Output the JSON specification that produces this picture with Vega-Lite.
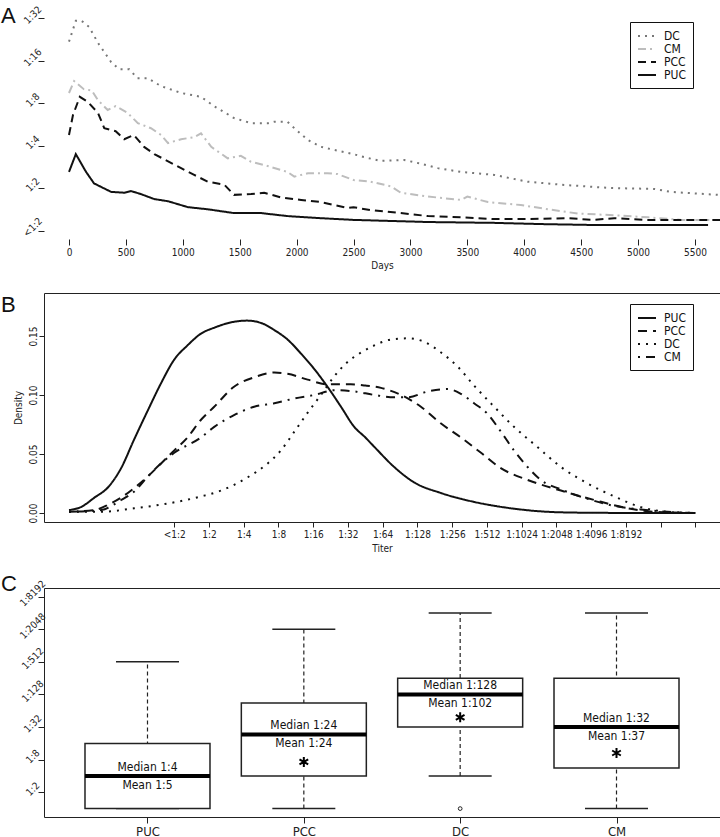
{
  "$schema": "https://vega.github.io/schema/vega-lite/v6.json",
  "background": "white",
  "padding": {"left": 0, "top": 4, "right": 1, "bottom": 0},
  "config": {
    "font": "Liberation Sans Narrow, DejaVu Sans Condensed, Liberation Sans, Arial",
    "axis": {"labelFont": "Liberation Sans Narrow, DejaVu Sans Condensed, Liberation Sans, Arial", "labelFontSize": 10, "labelColor": "#222", "titleFont": "Liberation Sans Narrow, DejaVu Sans Condensed, Liberation Sans, Arial", "titleFontSize": 10, "titleFontWeight": "normal", "titleColor": "#222", "tickColor": "#222", "domainColor": "#222", "grid": false, "labelOverlap": false, "labelFlush": false, "labelBound": false},
    "axisY": {"labelOverlap": false},
    "legend": {"labelFont": "Liberation Sans Narrow, DejaVu Sans Condensed, Liberation Sans, Arial", "labelFontSize": 12, "labelColor": "#111"},
    "title": {"font": "Liberation Sans", "fontSize": 22, "fontWeight": "normal", "color": "#111"}
  },
  "bounds": "flush",
  "spacing": 54,
  "resolve": {"scale": {"color": "independent", "strokeDash": "independent"}, "legend": {"color": "independent", "strokeDash": "independent"}},
  "vconcat": [
    {
      "width": 676,
      "height": 234,
      "title": {"text": "A", "orient": "top", "anchor": "start", "frame": "group", "offset": -28, "baseline": "top", "dx": -43, "dy": -4},
      "view": {"stroke": null},
      "layer": [
        {
          "data": {"values": [
            {"s":"DC","day":0,"v":4.45},{"s":"DC","day":60,"v":4.94},{"s":"DC","day":110,"v":4.94},{"s":"DC","day":176,"v":4.8},{"s":"DC","day":255,"v":4.42},{"s":"DC","day":370,"v":3.97},{"s":"DC","day":440,"v":3.8},{"s":"DC","day":530,"v":3.8},{"s":"DC","day":600,"v":3.59},{"s":"DC","day":690,"v":3.59},{"s":"DC","day":810,"v":3.4},{"s":"DC","day":985,"v":3.24},{"s":"DC","day":1160,"v":3.15},{"s":"DC","day":1275,"v":2.93},{"s":"DC","day":1450,"v":2.65},{"s":"DC","day":1600,"v":2.53},{"s":"DC","day":1750,"v":2.53},{"s":"DC","day":1800,"v":2.56},{"s":"DC","day":1920,"v":2.56},{"s":"DC","day":1980,"v":2.41},{"s":"DC","day":2100,"v":2.13},{"s":"DC","day":2215,"v":1.97},{"s":"DC","day":2330,"v":1.9},{"s":"DC","day":2500,"v":1.8},{"s":"DC","day":2590,"v":1.73},{"s":"DC","day":2740,"v":1.64},{"s":"DC","day":2945,"v":1.66},{"s":"DC","day":3065,"v":1.59},{"s":"DC","day":3240,"v":1.47},{"s":"DC","day":3445,"v":1.38},{"s":"DC","day":3735,"v":1.31},{"s":"DC","day":4030,"v":1.15},{"s":"DC","day":4320,"v":1.08},{"s":"DC","day":4760,"v":1.0},{"s":"DC","day":5140,"v":0.98},{"s":"DC","day":5290,"v":0.91},{"s":"DC","day":5700,"v":0.84},
            {"s":"CM","day":0,"v":3.24},{"s":"CM","day":45,"v":3.52},{"s":"CM","day":130,"v":3.33},{"s":"CM","day":200,"v":3.3},{"s":"CM","day":255,"v":3.07},{"s":"CM","day":340,"v":2.84},{"s":"CM","day":410,"v":2.93},{"s":"CM","day":515,"v":2.77},{"s":"CM","day":605,"v":2.53},{"s":"CM","day":720,"v":2.41},{"s":"CM","day":810,"v":2.25},{"s":"CM","day":870,"v":2.06},{"s":"CM","day":985,"v":2.15},{"s":"CM","day":1100,"v":2.2},{"s":"CM","day":1160,"v":2.29},{"s":"CM","day":1250,"v":1.97},{"s":"CM","day":1395,"v":1.7},{"s":"CM","day":1510,"v":1.76},{"s":"CM","day":1600,"v":1.62},{"s":"CM","day":1745,"v":1.52},{"s":"CM","day":1920,"v":1.38},{"s":"CM","day":1980,"v":1.27},{"s":"CM","day":2100,"v":1.35},{"s":"CM","day":2270,"v":1.35},{"s":"CM","day":2360,"v":1.33},{"s":"CM","day":2500,"v":1.19},{"s":"CM","day":2650,"v":1.15},{"s":"CM","day":2830,"v":1.04},{"s":"CM","day":2915,"v":0.89},{"s":"CM","day":3155,"v":0.8},{"s":"CM","day":3445,"v":0.72},{"s":"CM","day":3500,"v":0.8},{"s":"CM","day":3680,"v":0.67},{"s":"CM","day":3970,"v":0.6},{"s":"CM","day":4210,"v":0.5},{"s":"CM","day":4470,"v":0.4},{"s":"CM","day":4790,"v":0.36},{"s":"CM","day":5090,"v":0.31},{"s":"CM","day":5380,"v":0.25},{"s":"CM","day":5720,"v":0.25},
            {"s":"PCC","day":0,"v":2.25},{"s":"PCC","day":35,"v":2.72},{"s":"PCC","day":95,"v":3.15},{"s":"PCC","day":165,"v":3.03},{"s":"PCC","day":255,"v":2.77},{"s":"PCC","day":310,"v":2.41},{"s":"PCC","day":410,"v":2.34},{"s":"PCC","day":485,"v":2.15},{"s":"PCC","day":570,"v":2.25},{"s":"PCC","day":660,"v":1.97},{"s":"PCC","day":750,"v":1.8},{"s":"PCC","day":985,"v":1.47},{"s":"PCC","day":1100,"v":1.31},{"s":"PCC","day":1220,"v":1.15},{"s":"PCC","day":1365,"v":1.08},{"s":"PCC","day":1450,"v":0.84},{"s":"PCC","day":1600,"v":0.86},{"s":"PCC","day":1715,"v":0.89},{"s":"PCC","day":1860,"v":0.78},{"s":"PCC","day":2040,"v":0.72},{"s":"PCC","day":2215,"v":0.67},{"s":"PCC","day":2330,"v":0.6},{"s":"PCC","day":2450,"v":0.53},{"s":"PCC","day":2500,"v":0.55},{"s":"PCC","day":2650,"v":0.48},{"s":"PCC","day":2915,"v":0.41},{"s":"PCC","day":3155,"v":0.34},{"s":"PCC","day":3445,"v":0.31},{"s":"PCC","day":3735,"v":0.27},{"s":"PCC","day":4030,"v":0.27},{"s":"PCC","day":4380,"v":0.29},{"s":"PCC","day":4610,"v":0.25},{"s":"PCC","day":4790,"v":0.29},{"s":"PCC","day":5050,"v":0.25},{"s":"PCC","day":5720,"v":0.25},
            {"s":"PUC","day":0,"v":1.38},{"s":"PUC","day":60,"v":1.8},{"s":"PUC","day":150,"v":1.38},{"s":"PUC","day":220,"v":1.11},{"s":"PUC","day":370,"v":0.91},{"s":"PUC","day":485,"v":0.89},{"s":"PUC","day":545,"v":0.93},{"s":"PUC","day":630,"v":0.86},{"s":"PUC","day":750,"v":0.74},{"s":"PUC","day":870,"v":0.69},{"s":"PUC","day":1045,"v":0.55},{"s":"PUC","day":1220,"v":0.5},{"s":"PUC","day":1450,"v":0.41},{"s":"PUC","day":1690,"v":0.41},{"s":"PUC","day":1920,"v":0.34},{"s":"PUC","day":2215,"v":0.29},{"s":"PUC","day":2500,"v":0.25},{"s":"PUC","day":3155,"v":0.2},{"s":"PUC","day":3735,"v":0.18},{"s":"PUC","day":4175,"v":0.15},{"s":"PUC","day":4610,"v":0.13},{"s":"PUC","day":5615,"v":0.13}
          ]},
          "mark": {"type": "line", "strokeWidth": 2},
          "encoding": {
            "x": {"field": "day", "type": "quantitative", "scale": {"domain": [-219.6, 5720], "nice": false, "zero": false},
                  "axis": {"title": "Days", "values": [0,500,1000,1500,2000,2500,3000,3500,4000,4500,5000,5500], "format": "d", "domain": false, "tickSize": 6, "labelPadding": 2, "titlePadding": 3, "labelOverlap": false}},
            "y": {"field": "v", "type": "quantitative", "scale": {"domain": [-0.2, 5.313], "nice": false, "zero": false},
                  "axis": {"title": null, "values": [0,1,2,3,4,5], "labelExpr": "datum.value == 0 ? '<1:2' : '1:' + pow(2, datum.value)", "labelAngle": -45, "labelAlign": "center", "labelBaseline": "bottom", "labelPadding": 2, "domain": false, "tickSize": 6, "labelOverlap": false}},
            "color": {"field": "s", "type": "nominal", "scale": {"domain": ["DC","CM","PCC","PUC"], "range": ["#777777","#bdbdbd","#111111","#111111"]},
                      "legend": {"title": null, "orient": "none", "legendX": 586, "legendY": 17, "strokeColor": "#111", "padding": 7, "symbolType": "M-1,0H2", "symbolSize": 144, "symbolStrokeWidth": 2, "labelOffset": 13, "rowPadding": 0}},
            "strokeDash": {"field": "s", "type": "nominal", "scale": {"domain": ["DC","CM","PCC","PUC"], "range": [[2,5],[8,4,2,4],[8,5],[1,0]]},
                      "legend": {"title": null, "orient": "none", "legendX": 586, "legendY": 17, "strokeColor": "#111", "padding": 7, "symbolType": "M-1,0H2", "symbolSize": 144, "symbolStrokeWidth": 2, "labelOffset": 13, "rowPadding": 0}}
          }
        },
        {
          "mark": {"type": "rule", "color": "#222", "strokeWidth": 1},
          "encoding": {"x": {"datum": -219.6, "type": "quantitative"}, "y": {"datum": 0, "type": "quantitative"}, "y2": {"datum": 5}}
        },
        {
          "mark": {"type": "rule", "color": "#222", "strokeWidth": 1},
          "encoding": {"x": {"datum": 0, "type": "quantitative"}, "x2": {"datum": 5500}, "y": {"datum": -0.2, "type": "quantitative"}}
        }
      ]
    },
    {
      "bounds": "flush",
      "spacing": 66,
      "resolve": {"scale": {"color": "independent", "strokeDash": "independent"}, "legend": {"color": "independent", "strokeDash": "independent"}},
      "vconcat": [
        {
          "width": 676,
          "height": 229,
          "title": {"text": "B", "orient": "top", "anchor": "start", "frame": "group", "offset": -28, "baseline": "top", "dx": -43, "dy": -4},
          "view": {"stroke": "#222", "strokeWidth": 1},
          "data": {"values": [
            {"s":"PUC","t":-3.03,"d":0.0025},{"s":"PUC","t":-2.69,"d":0.005},{"s":"PUC","t":-2.3,"d":0.013},{"s":"PUC","t":-1.9,"d":0.022},{"s":"PUC","t":-1.53,"d":0.038},{"s":"PUC","t":-1.16,"d":0.062},{"s":"PUC","t":-0.76,"d":0.087},{"s":"PUC","t":-0.38,"d":0.11},{"s":"PUC","t":0,"d":0.13},{"s":"PUC","t":0.38,"d":0.142},{"s":"PUC","t":0.77,"d":0.152},{"s":"PUC","t":1.15,"d":0.157},{"s":"PUC","t":1.72,"d":0.162},{"s":"PUC","t":2.1,"d":0.163},{"s":"PUC","t":2.5,"d":0.161},{"s":"PUC","t":2.88,"d":0.155},{"s":"PUC","t":3.26,"d":0.147},{"s":"PUC","t":3.65,"d":0.135},{"s":"PUC","t":4.03,"d":0.122},{"s":"PUC","t":4.41,"d":0.107},{"s":"PUC","t":4.8,"d":0.09},{"s":"PUC","t":5.18,"d":0.073},{"s":"PUC","t":5.5,"d":0.064},{"s":"PUC","t":5.76,"d":0.056},{"s":"PUC","t":6.33,"d":0.039},{"s":"PUC","t":6.9,"d":0.026},{"s":"PUC","t":7.67,"d":0.017},{"s":"PUC","t":8.63,"d":0.0094},{"s":"PUC","t":9.69,"d":0.004},{"s":"PUC","t":11.1,"d":0.0006},{"s":"PUC","t":12.5,"d":0.0001},{"s":"PUC","t":15,"d":0},
            {"s":"PCC","t":-3.03,"d":0.001},{"s":"PCC","t":-2.3,"d":0.0025},{"s":"PCC","t":-1.9,"d":0.007},{"s":"PCC","t":-1.53,"d":0.013},{"s":"PCC","t":-1.16,"d":0.021},{"s":"PCC","t":-0.76,"d":0.031},{"s":"PCC","t":-0.38,"d":0.042},{"s":"PCC","t":0,"d":0.053},{"s":"PCC","t":0.38,"d":0.064},{"s":"PCC","t":0.77,"d":0.079},{"s":"PCC","t":1.15,"d":0.09},{"s":"PCC","t":1.72,"d":0.107},{"s":"PCC","t":2.3,"d":0.115},{"s":"PCC","t":2.88,"d":0.119},{"s":"PCC","t":3.26,"d":0.118},{"s":"PCC","t":3.84,"d":0.113},{"s":"PCC","t":4.41,"d":0.109},{"s":"PCC","t":5.08,"d":0.109},{"s":"PCC","t":5.5,"d":0.108},{"s":"PCC","t":5.95,"d":0.106},{"s":"PCC","t":6.53,"d":0.1},{"s":"PCC","t":7.1,"d":0.09},{"s":"PCC","t":7.67,"d":0.076},{"s":"PCC","t":8.25,"d":0.064},{"s":"PCC","t":8.83,"d":0.051},{"s":"PCC","t":9.4,"d":0.038},{"s":"PCC","t":10.17,"d":0.028},{"s":"PCC","t":11.13,"d":0.019},{"s":"PCC","t":12.09,"d":0.011},{"s":"PCC","t":13.05,"d":0.004},{"s":"PCC","t":13.8,"d":0.001},{"s":"PCC","t":15,"d":0},
            {"s":"DC","t":-3.03,"d":0.001},{"s":"DC","t":-2.1,"d":0.001},{"s":"DC","t":-1.16,"d":0.004},{"s":"DC","t":-0.19,"d":0.008},{"s":"DC","t":0.77,"d":0.014},{"s":"DC","t":1.35,"d":0.019},{"s":"DC","t":2.1,"d":0.03},{"s":"DC","t":2.69,"d":0.042},{"s":"DC","t":3.07,"d":0.053},{"s":"DC","t":3.46,"d":0.069},{"s":"DC","t":3.84,"d":0.085},{"s":"DC","t":4.22,"d":0.1},{"s":"DC","t":4.61,"d":0.116},{"s":"DC","t":4.99,"d":0.128},{"s":"DC","t":5.38,"d":0.136},{"s":"DC","t":5.76,"d":0.142},{"s":"DC","t":6.24,"d":0.147},{"s":"DC","t":6.72,"d":0.148},{"s":"DC","t":7.2,"d":0.145},{"s":"DC","t":7.68,"d":0.136},{"s":"DC","t":8.16,"d":0.124},{"s":"DC","t":8.63,"d":0.108},{"s":"DC","t":9.21,"d":0.09},{"s":"DC","t":9.78,"d":0.073},{"s":"DC","t":10.45,"d":0.056},{"s":"DC","t":11.13,"d":0.039},{"s":"DC","t":11.9,"d":0.025},{"s":"DC","t":12.67,"d":0.014},{"s":"DC","t":13.43,"d":0.005},{"s":"DC","t":14.2,"d":0.001},{"s":"DC","t":15,"d":0},
            {"s":"CM","t":-3.03,"d":0.001},{"s":"CM","t":-2.1,"d":0.0025},{"s":"CM","t":-1.53,"d":0.011},{"s":"CM","t":-1.16,"d":0.018},{"s":"CM","t":-0.76,"d":0.031},{"s":"CM","t":-0.38,"d":0.042},{"s":"CM","t":0,"d":0.051},{"s":"CM","t":0.77,"d":0.064},{"s":"CM","t":1.15,"d":0.073},{"s":"CM","t":1.72,"d":0.083},{"s":"CM","t":2.3,"d":0.09},{"s":"CM","t":2.88,"d":0.093},{"s":"CM","t":3.46,"d":0.097},{"s":"CM","t":4.03,"d":0.1},{"s":"CM","t":4.61,"d":0.104},{"s":"CM","t":5.18,"d":0.103},{"s":"CM","t":5.76,"d":0.1},{"s":"CM","t":6.33,"d":0.098},{"s":"CM","t":6.72,"d":0.098},{"s":"CM","t":7.3,"d":0.103},{"s":"CM","t":7.87,"d":0.105},{"s":"CM","t":8.25,"d":0.101},{"s":"CM","t":8.63,"d":0.093},{"s":"CM","t":9.02,"d":0.084},{"s":"CM","t":9.4,"d":0.069},{"s":"CM","t":9.78,"d":0.053},{"s":"CM","t":10.17,"d":0.039},{"s":"CM","t":10.55,"d":0.028},{"s":"CM","t":11.13,"d":0.02},{"s":"CM","t":11.9,"d":0.012},{"s":"CM","t":12.67,"d":0.006},{"s":"CM","t":13.43,"d":0.003},{"s":"CM","t":14.2,"d":0.001},{"s":"CM","t":15,"d":0}
          ]},
          "mark": {"type": "line", "strokeWidth": 2, "interpolate": "monotone"},
          "encoding": {
            "x": {"field": "t", "type": "quantitative", "scale": {"domain": [-3.75, 15.71], "nice": false, "zero": false},
                  "axis": {"title": "Titer", "values": [0,1,2,3,4,5,6,7,8,9,10,11,12,13,14,15], "labelExpr": "['<1:2','1:2','1:4','1:8','1:16','1:32','1:64','1:128','1:256','1:512','1:1024','1:2048','1:4096','1:8192','',''][datum.value]", "domain": false, "tickSize": 5, "labelPadding": 2, "titlePadding": 4, "labelOverlap": false}},
            "y": {"field": "d", "type": "quantitative", "scale": {"domain": [-0.00763, 0.1864], "nice": false, "zero": false},
                  "axis": {"title": "Density", "values": [0,0.05,0.1,0.15], "format": ".2f", "labelAngle": -90, "labelAlign": "center", "labelBaseline": "bottom", "labelPadding": 1, "domain": false, "tickSize": 5, "titlePadding": 5, "labelOverlap": false}},
            "color": {"field": "s", "type": "nominal", "scale": {"domain": ["PUC","PCC","DC","CM"], "range": ["#111111","#111111","#111111","#111111"]},
                      "legend": {"title": null, "orient": "none", "legendX": 586, "legendY": 11, "strokeColor": "#111", "padding": 7, "symbolType": "M-1,0H2", "symbolSize": 144, "symbolStrokeWidth": 2, "labelOffset": 13, "rowPadding": 0}},
            "strokeDash": {"field": "s", "type": "nominal", "scale": {"domain": ["PUC","PCC","DC","CM"], "range": [[1,0],[9,6],[2,6],[2,6,9,6]]},
                      "legend": {"title": null, "orient": "none", "legendX": 586, "legendY": 11, "strokeColor": "#111", "padding": 7, "symbolType": "M-1,0H2", "symbolSize": 144, "symbolStrokeWidth": 2, "labelOffset": 13, "rowPadding": 0}}
          }
        },
        {
          "width": 676,
          "height": 229,
          "title": {"text": "C", "orient": "top", "anchor": "start", "frame": "group", "offset": -22, "baseline": "top", "dx": -43, "dy": -4},
          "view": {"stroke": "#222", "strokeWidth": 1},
          "data": {"values": [
            {"group":"PUC","lo":0,"q1":0,"med":2,"q3":4,"hi":9,"star":null,"medLabel":"Median 1:4","meanLabel":"Mean 1:5"},
            {"group":"PCC","lo":0,"q1":2,"med":4.55,"q3":6.48,"hi":11,"star":2.86,"medLabel":"Median 1:24","meanLabel":"Mean 1:24"},
            {"group":"DC","lo":2,"q1":5,"med":7,"q3":8,"hi":12,"star":5.6,"medLabel":"Median 1:128","meanLabel":"Mean 1:102"},
            {"group":"CM","lo":0,"q1":2.49,"med":5,"q3":8,"hi":12,"star":3.41,"medLabel":"Median 1:32","meanLabel":"Mean 1:37"}
          ]},
          "encoding": {
            "x": {"field": "group", "type": "nominal", "sort": ["PUC","PCC","DC","CM"], "scale": {"type": "point", "padding": 0.662},
                  "axis": {"title": null, "labelAngle": 0, "tickSize": 6, "domain": false, "labelFontSize": 13, "labelPadding": 2}}
          },
          "layer": [
            {
              "mark": {"type": "rule", "strokeDash": [4,3], "color": "#222", "strokeWidth": 1.2},
              "encoding": {
                "y": {"field": "lo", "type": "quantitative", "scale": {"domain": [-0.515, 13.53], "nice": false, "zero": false},
                      "axis": {"title": null, "values": [1,3,5,7,9,11,13], "labelExpr": "'1:' + pow(2, datum.value)", "labelAngle": -45, "labelAlign": "center", "labelBaseline": "bottom", "labelPadding": 2, "domain": false, "tickSize": 6, "labelOverlap": false}},
                "y2": {"field": "hi"}
              }
            },
            {"mark": {"type": "tick", "thickness": 1.5, "size": 63, "color": "#222", "opacity": 1}, "encoding": {"y": {"field": "hi", "type": "quantitative", "axis": {"title": null, "values": [1,3,5,7,9,11,13], "labelExpr": "'1:' + pow(2, datum.value)", "labelAngle": -45, "labelAlign": "center", "labelBaseline": "bottom", "labelPadding": 2, "domain": false, "tickSize": 6, "labelOverlap": false}}}},
            {"mark": {"type": "tick", "thickness": 1.5, "size": 63, "color": "#222", "opacity": 1}, "encoding": {"y": {"field": "lo", "type": "quantitative", "axis": {"title": null, "values": [1,3,5,7,9,11,13], "labelExpr": "'1:' + pow(2, datum.value)", "labelAngle": -45, "labelAlign": "center", "labelBaseline": "bottom", "labelPadding": 2, "domain": false, "tickSize": 6, "labelOverlap": false}}}},
            {"mark": {"type": "bar", "size": 125, "fill": "white", "stroke": "#222", "strokeWidth": 1.5, "opacity": 1}, "encoding": {"y": {"field": "q1", "type": "quantitative", "axis": {"title": null, "values": [1,3,5,7,9,11,13], "labelExpr": "'1:' + pow(2, datum.value)", "labelAngle": -45, "labelAlign": "center", "labelBaseline": "bottom", "labelPadding": 2, "domain": false, "tickSize": 6, "labelOverlap": false}}, "y2": {"field": "q3"}}},
            {"mark": {"type": "tick", "thickness": 4, "size": 125, "color": "#000", "opacity": 1}, "encoding": {"y": {"field": "med", "type": "quantitative", "axis": {"title": null, "values": [1,3,5,7,9,11,13], "labelExpr": "'1:' + pow(2, datum.value)", "labelAngle": -45, "labelAlign": "center", "labelBaseline": "bottom", "labelPadding": 2, "domain": false, "tickSize": 6, "labelOverlap": false}}}},
            {"mark": {"type": "text", "dy": -9, "fontSize": 12, "color": "#111", "baseline": "middle"}, "encoding": {"y": {"field": "med", "type": "quantitative", "axis": {"title": null, "values": [1,3,5,7,9,11,13], "labelExpr": "'1:' + pow(2, datum.value)", "labelAngle": -45, "labelAlign": "center", "labelBaseline": "bottom", "labelPadding": 2, "domain": false, "tickSize": 6, "labelOverlap": false}}, "text": {"field": "medLabel"}}},
            {"mark": {"type": "text", "dy": 9, "fontSize": 12, "color": "#111", "baseline": "middle"}, "encoding": {"y": {"field": "med", "type": "quantitative", "axis": {"title": null, "values": [1,3,5,7,9,11,13], "labelExpr": "'1:' + pow(2, datum.value)", "labelAngle": -45, "labelAlign": "center", "labelBaseline": "bottom", "labelPadding": 2, "domain": false, "tickSize": 6, "labelOverlap": false}}, "text": {"field": "meanLabel"}}},
            {
              "transform": [{"filter": "datum.star != null"}],
              "mark": {"type": "point", "shape": "M0,-1L0,1M-0.87,-0.5L0.87,0.5M-0.87,0.5L0.87,-0.5", "size": 100, "filled": false, "stroke": "#000", "strokeWidth": 2, "opacity": 1},
              "encoding": {"y": {"field": "star", "type": "quantitative", "axis": {"title": null, "values": [1,3,5,7,9,11,13], "labelExpr": "'1:' + pow(2, datum.value)", "labelAngle": -45, "labelAlign": "center", "labelBaseline": "bottom", "labelPadding": 2, "domain": false, "tickSize": 6, "labelOverlap": false}}}
            },
            {
              "data": {"values": [{"group": "DC", "v": 0}]},
              "mark": {"type": "point", "shape": "circle", "size": 14, "filled": false, "stroke": "#222", "strokeWidth": 1, "opacity": 1},
              "encoding": {"y": {"field": "v", "type": "quantitative", "axis": {"title": null, "values": [1,3,5,7,9,11,13], "labelExpr": "'1:' + pow(2, datum.value)", "labelAngle": -45, "labelAlign": "center", "labelBaseline": "bottom", "labelPadding": 2, "domain": false, "tickSize": 6, "labelOverlap": false}}}
            }
          ]
        }
      ]
    }
  ]
}
